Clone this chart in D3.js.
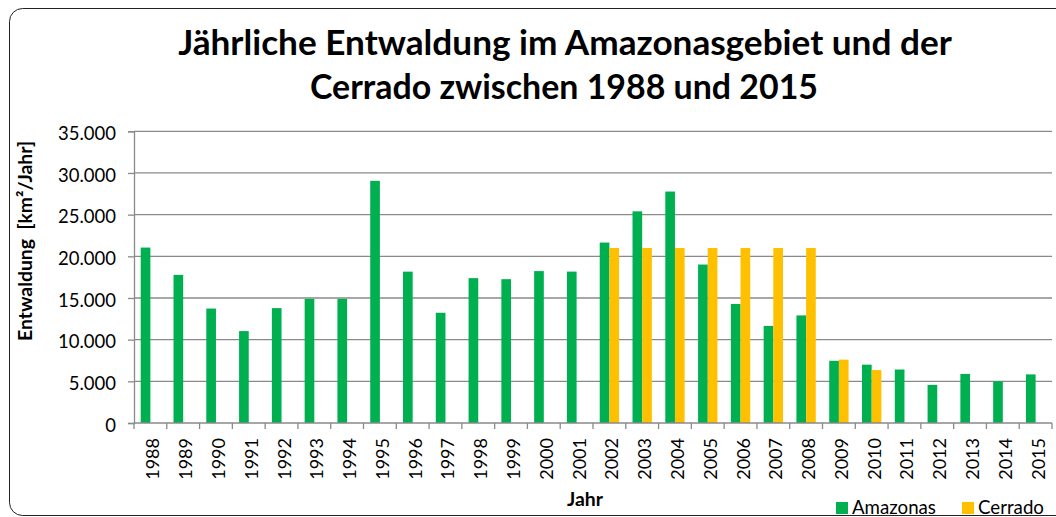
<!DOCTYPE html>
<html>
<head>
<meta charset="utf-8">
<script src="https://cdn.jsdelivr.net/npm/d3@7"></script>
<style>
  html, body { margin: 0; padding: 0; background: #fff; }
  svg { display: block; font-family: Lato, "Open Sans", "Liberation Sans", sans-serif; }
</style>
</head>
<body>
<svg id="chart" width="1056" height="517"></svg>
<script>
// ---- data ----
const years = ["1988","1989","1990","1991","1992","1993","1994","1995","1996","1997",
               "1998","1999","2000","2001","2002","2003","2004","2005","2006","2007",
               "2008","2009","2010","2011","2012","2013","2014","2015"];
const amazonas = [21050,17770,13730,11030,13786,14896,14896,29059,18161,13227,
                  17383,17259,18226,18165,21651,25396,27772,19014,14286,11651,
                  12911,7464,7000,6418,4571,5891,5012,5831];
const cerrado = [null,null,null,null,null,null,null,null,null,null,
                 null,null,null,null,21000,21000,21000,21000,21000,21000,
                 21000,7600,6350,null,null,null,null,null];
const seriesNames = ["Amazonas","Cerrado"];
const yTicks = [0,5000,10000,15000,20000,25000,30000,35000];
const titleLines = ["Jährliche Entwaldung im Amazonasgebiet und der","Cerrado zwischen 1988 und 2015"];
const yTitle = "Entwaldung  [km²/Jahr]";
const xTitle = "Jahr";

// ---- layout ----
const colors = d3.scaleOrdinal(seriesNames, ["#00B050", "#FFC000"]);
const svg = d3.select("#chart");
const plot = {left: 134, right: 1052, top: 131.3, bottom: 423};

const de = d3.formatLocale({decimal: ",", thousands: ".", grouping: [3], currency: ["", " €"]});
const fmt = de.format(",d");

function fit(sel, target) {
  const w = sel.node().getComputedTextLength();
  const fs = parseFloat(sel.attr("font-size"));
  sel.attr("font-size", (fs * target / w).toFixed(2));
  return sel;
}

// border
svg.append("rect")
  .attr("x", 9.5).attr("y", 8.5)
  .attr("width", 1060).attr("height", 507)
  .attr("rx", 13).attr("ry", 13)
  .attr("fill", "#fff").attr("stroke", "#222").attr("stroke-width", 1);

// scales
const p = 0.41;
const x = d3.scaleBand(years, [plot.left, plot.right]).paddingInner(p).paddingOuter(p / 2);
const xs = d3.scaleBand(seriesNames, [0, x.bandwidth()]);
const y = d3.scaleLinear([0, 35000], [plot.bottom, plot.top]);

// gridlines
svg.append("g").selectAll("line")
  .data(yTicks.filter(d => d > 0))
  .join("line")
  .attr("x1", plot.left).attr("x2", plot.right)
  .attr("y1", d => y(d)).attr("y2", d => y(d))
  .attr("stroke", "#8a8a8a").attr("stroke-width", 1.3);

// bars
const rows = years.map((yr, i) => ({year: yr, vals: [
  {s: "Amazonas", v: amazonas[i]}, {s: "Cerrado", v: cerrado[i]}]}));
svg.append("g").selectAll("g")
  .data(rows)
  .join("g")
  .attr("transform", d => `translate(${x(d.year)},0)`)
  .selectAll("rect")
  .data(d => d.vals.filter(e => e.v != null))
  .join("rect")
  .attr("x", d => xs(d.s))
  .attr("width", xs.bandwidth())
  .attr("y", d => y(d.v))
  .attr("height", d => y(0) - y(d.v))
  .attr("fill", d => colors(d.s));

// y axis
const yAxis = svg.append("g")
  .attr("transform", `translate(${plot.left},0)`)
  .call(d3.axisLeft(y).tickValues(yTicks).tickFormat(fmt).tickSize(6).tickPadding(12));
yAxis.select(".domain").attr("stroke", "#8a8a8a").attr("stroke-width", 1.3);
yAxis.selectAll(".tick line").attr("stroke", "#8a8a8a").attr("stroke-width", 1.3);
yAxis.selectAll(".tick text")
  .attr("font-size", 18.5).attr("fill", "#000")
  .attr("font-family", "Lato, sans-serif").attr("dy", "0.45em");

// x axis
const xg = svg.append("g");
xg.append("line")
  .attr("x1", plot.left).attr("x2", plot.right)
  .attr("y1", plot.bottom).attr("y2", plot.bottom)
  .attr("stroke", "#8a8a8a").attr("stroke-width", 1.3);
const bounds = years.map(d => x(d) - x.step() * p / 2).concat([plot.right]);
xg.selectAll("line.tk")
  .data(bounds)
  .join("line").attr("class", "tk")
  .attr("x1", d => d).attr("x2", d => d)
  .attr("y1", plot.bottom).attr("y2", plot.bottom + 6)
  .attr("stroke", "#8a8a8a").attr("stroke-width", 1.3);
xg.selectAll("text")
  .data(years)
  .join("text")
  .attr("transform", d => `translate(${x(d) + x.bandwidth() / 2},${plot.bottom + 15}) rotate(-90)`)
  .attr("text-anchor", "end")
  .attr("dy", "0.5em")
  .attr("font-size", 18)
  .attr("fill", "#000")
  .text(d => d);

// titles
const t1 = svg.append("text").attr("x", 565).attr("y", 55)
  .attr("text-anchor", "middle").attr("font-weight", "bold").attr("font-size", 32)
  .attr("fill", "#000").text(titleLines[0]);
fit(t1, 774);
const t2 = svg.append("text").attr("x", 564).attr("y", 99)
  .attr("text-anchor", "middle").attr("font-weight", "bold").attr("font-size", 32)
  .attr("fill", "#000").text(titleLines[1]);
fit(t2, 508);

const yt = svg.append("text")
  .attr("transform", "translate(32,241) rotate(-90)")
  .attr("text-anchor", "middle").attr("font-weight", "bold").attr("font-size", 16)
  .style("white-space", "pre")
  .attr("fill", "#000").text(yTitle);
fit(yt, 200);

const xt = svg.append("text").attr("x", 585).attr("y", 506)
  .attr("text-anchor", "middle").attr("font-weight", "bold").attr("font-size", 17)
  .attr("fill", "#000").text(xTitle);
fit(xt, 36);

// legend
const legX = d3.scaleOrdinal(seriesNames, [836, 962]);
const leg = svg.append("g").selectAll("g")
  .data(seriesNames)
  .join("g")
  .attr("transform", d => `translate(${legX(d)},502)`);
leg.append("rect").attr("width", 12).attr("height", 12).attr("fill", d => colors(d));
const legText = leg.append("text").attr("x", 16).attr("y", 12)
  .attr("font-size", 17).attr("fill", "#000").text(d => d);
fit(d3.select(legText.nodes()[0]), 84);
legText.attr("font-size", d3.select(legText.nodes()[0]).attr("font-size"));
</script>
</body>
</html>
